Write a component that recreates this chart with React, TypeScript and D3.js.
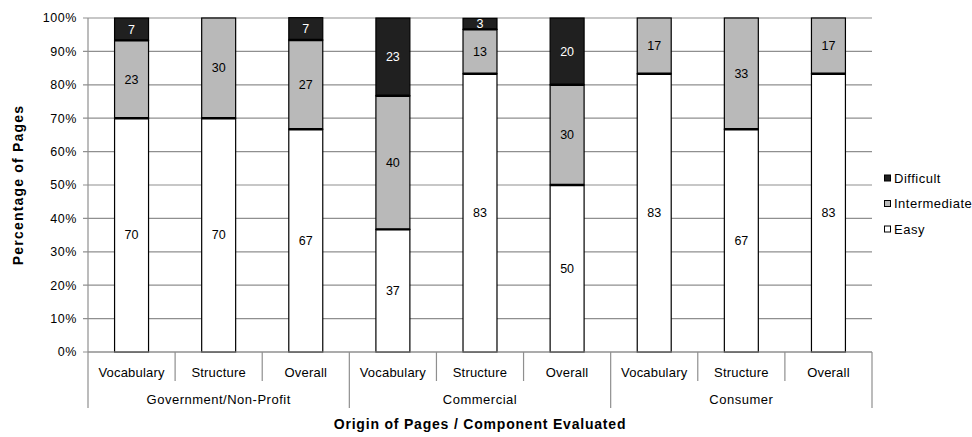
import React from "react";
import * as d3 from "d3";

// Component evaluated within each origin group
const components = ["Vocabulary", "Structure", "Overall"];
const groups = ["Government/Non-Profit", "Commercial", "Consumer"];

// Percentage of pages per difficulty level, one entry per group × component
const easy = [70, 70, 66.7, 36.7, 83.3, 50, 83.3, 66.7, 83.3];
const intermediate = [23.3, 30, 26.7, 40, 13.3, 30, 16.7, 33.3, 16.7];
const difficult = [6.7, 0, 6.7, 23.3, 3.3, 20, 0, 0, 0];

const levels = ["Easy", "Intermediate", "Difficult"];
const levelColors = ["#ffffff", "#b9b9b9", "#202020"];
const labelColors = ["#000000", "#000000", "#ffffff"];
const legendOrder = ["Difficult", "Intermediate", "Easy"];

const yTicks = [0, 10, 20, 30, 40, 50, 60, 70, 80, 90, 100];

const W = 972;
const H = 437;
const M = { left: 88, right: 100, top: 18, bottom: 85 };
const FONT = "'Liberation Sans', Arial, sans-serif";

export default function App() {
  const rows = components.length * groups.length;
  const keys = d3.range(rows).map((i) => `${i}`);
  const table = keys.map((k, i) => ({
    key: k,
    Easy: easy[i],
    Intermediate: intermediate[i],
    Difficult: difficult[i],
  }));
  const stacked = d3.stack<any>().keys(levels)(table);

  const x = d3
    .scaleBand<string>()
    .domain(keys)
    .range([M.left, W - M.right])
    .paddingInner(0.61)
    .paddingOuter(0.305);
  const y = d3.scaleLinear().domain([0, 100]).range([H - M.bottom, M.top]);

  const step = x.step();
  const x0 = M.left;
  const x1 = W - M.right;
  const y0 = y(0);
  const fmt = d3.format(".0f");
  const grid = "#8f8f8f";

  return (
    <svg
      width={W}
      height={H}
      style={{ position: "absolute", left: 0, top: 0, background: "#fff" }}
      fontFamily={FONT}
    >
      {/* horizontal gridlines and y ticks */}
      {yTicks.map((t) => (
        <g key={t}>
          <line x1={x0 - 5} x2={x1} y1={y(t)} y2={y(t)} stroke={grid} strokeWidth={1.2} />
          <text
            x={x0 - 11}
            y={y(t)}
            dy="0.35em"
            textAnchor="end"
            fontSize={12.5}
            letterSpacing={0.6}
            fill="#000"
          >
            {t}%
          </text>
        </g>
      ))}
      {/* y axis line */}
      <line x1={x0} x2={x0} y1={M.top} y2={y0} stroke={grid} strokeWidth={1.2} />

      {/* stacked bars */}
      {stacked.map((layer, li) => (
        <g key={levels[li]}>
          {layer.map((d, i) => {
            const v = d[1] - d[0];
            if (v <= 0) return null;
            const bx = x(keys[i])!;
            const top = y(d[1]);
            const bottom = y(d[0]);
            return (
              <g key={i}>
                <rect
                  x={bx}
                  y={top}
                  width={x.bandwidth()}
                  height={bottom - top}
                  fill={levelColors[li]}
                  stroke="#000"
                  strokeWidth={1.2}
                />
                {d[0] > 0 && (
                  <line
                    x1={bx}
                    x2={bx + x.bandwidth()}
                    y1={bottom}
                    y2={bottom}
                    stroke="#000"
                    strokeWidth={2.4}
                  />
                )}
                <text
                  x={bx + x.bandwidth() / 2}
                  y={(top + bottom) / 2}
                  dy="0.35em"
                  textAnchor="middle"
                  fontSize={12.5}
                  fill={labelColors[li]}
                >
                  {fmt(v)}
                </text>
              </g>
            );
          })}
        </g>
      ))}

      {/* x axis baseline */}
      <line x1={x0} x2={x1} y1={y0} y2={y0} stroke={grid} strokeWidth={1.2} />

      {/* category separators and labels */}
      {d3.range(rows + 1).map((i) => {
        const isGroup = i % components.length === 0;
        const sx = x0 + i * step;
        return (
          <line
            key={`sep${i}`}
            x1={sx}
            x2={sx}
            y1={y0}
            y2={isGroup ? y0 + 56 : y0 + 29}
            stroke={grid}
            strokeWidth={1.2}
          />
        );
      })}
      {keys.map((k, i) => (
        <text
          key={`c${k}`}
          x={x0 + (i + 0.5) * step}
          y={y0 + 20}
          dy="0.35em"
          textAnchor="middle"
          fontSize={13}
          letterSpacing={0.2}
        >
          {components[i % components.length]}
        </text>
      ))}
      {groups.map((g, gi) => (
        <text
          key={g}
          x={x0 + (gi * components.length + components.length / 2) * step}
          y={y0 + 47}
          dy="0.35em"
          textAnchor="middle"
          fontSize={13}
          letterSpacing={0.5}
        >
          {g}
        </text>
      ))}

      {/* axis titles */}
      <text
        x={(x0 + x1) / 2}
        y={424}
        dy="0.35em"
        textAnchor="middle"
        fontSize={14}
        fontWeight="bold"
        letterSpacing={0.8}
      >
        Origin of Pages / Component Evaluated
      </text>
      <text
        transform={`translate(18,${(M.top + y0) / 2}) rotate(-90)`}
        dy="0.35em"
        textAnchor="middle"
        fontSize={14}
        fontWeight="bold"
        letterSpacing={1.2}
      >
        Percentage of Pages
      </text>

      {/* legend */}
      {legendOrder.map((name, i) => {
        const li = levels.indexOf(name);
        const ly = 178 + i * 25.5;
        return (
          <g key={name}>
            <rect
              x={884.5}
              y={ly - 3}
              width={6}
              height={6}
              fill={levelColors[li]}
              stroke="#000"
              strokeWidth={1}
            />
            <text x={894} y={ly} dy="0.35em" fontSize={13} letterSpacing={0.5}>
              {name}
            </text>
          </g>
        );
      })}
    </svg>
  );
}
